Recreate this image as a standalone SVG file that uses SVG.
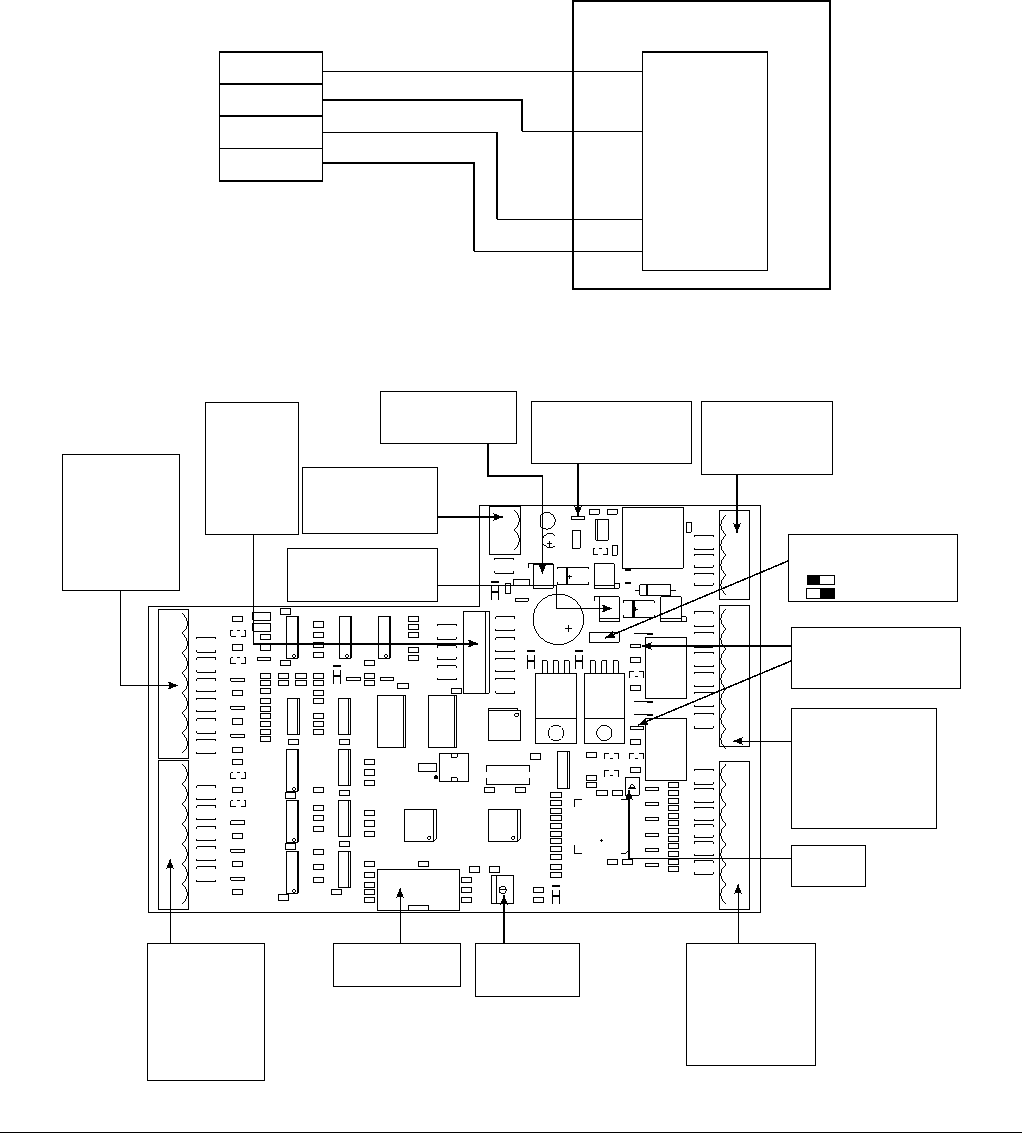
<svg xmlns="http://www.w3.org/2000/svg" width="1022" height="1133" viewBox="0 0 1022 1133">
<style>
svg{background:#fff}
path,rect,circle{fill:none;stroke:#000;stroke-width:1;shape-rendering:crispEdges}
.z path,.z rect,.z circle{stroke-width:3}
.z .f{fill:#000;stroke:none}
.z .t{stroke-width:6}
.b2{stroke-width:2}
.w2{stroke-width:2}
.w15{stroke-width:1.5}
.k{fill:#000;stroke:none}
.a{marker-end:url(#ah)}
</style>
<defs>
<marker id="ah" markerUnits="userSpaceOnUse" markerWidth="11" markerHeight="8" refX="10" refY="4" orient="auto"><path class="k" d="M0 0L10 4L0 8L1.500 4Z"/></marker>
<g class="z">
<path id="sL7" d="M0 0q32 30 0 60q32 30 0 60q32 30 0 60q32 30 0 60q32 30 0 60q32 30 0 60q32 30 0 60"/>
<path id="sR7" d="M0 0q-32 30 0 60q-32 30 0 60q-32 30 0 60q-32 30 0 60q-32 30 0 60q-32 30 0 60q-32 30 0 60"/>
<path id="sR4" d="M0 0q-32 30 0 60q-32 30 0 60q-32 30 0 60q-32 30 0 60"/>
<path id="bt" d="M0 6V0H57V6"/>
<path id="bb" d="M0 -6V0H57V-6"/>
<path id="sa" d="M5 0H0V18H14M30 18H44V0H39M17 0h9"/>
<path id="sb" d="M0 18V0H14M30 0H44V18M17 15h9"/>
<g id="hs"><rect class="f" width="23" height="5"/><rect class="f" x="0" y="30" width="23" height="7"/><path d="M1 15V58M22 15V58"/></g>
<g id="ict"><rect width="33" height="126"/><path class="t" d="M34 0V126"/><circle cx="23" cy="119" r="5"/></g>
<g id="icd"><rect width="37" height="108"/><path d="M30 0V108"/></g>
<g id="sq"><path d="M0 0H97V88L88 97H0ZM88 0V97"/><circle cx="75" cy="85" r="5"/></g>
</g>
</defs>
<g id="top-unit">
<rect id="enclosure" class="b2" x="573" y="0.500" width="257" height="288"/>
<g id="inner"><path d="M642.500 52V270H767.500V52"/><path class="b2" d="M642 52H768"/></g>
<g id="terminals"><path d="M219.500 52V181M322.500 52V181M219 148.500H323"/><path class="b2" d="M219 52H323M219 84H323M219 116H323M219 181H323"/></g>
<g id="wires"><path d="M322 71.500H642"/><path class="w2" d="M322 100H522V131"/><path d="M522 131.500H642"/><path d="M322 132.500H497"/><path class="w2" d="M497 132V219"/><path d="M497 219.500H642"/><path class="w2" d="M322 163H474V251"/><path d="M474 251.500H642"/></g>
</g>
<g id="board-outline"><path d="M148.500 606H479.500V505H760.500V912H148.500Z"/></g>
<g id="board-left" class="z" transform="translate(140 590) scale(.33333)">
<rect x="55" y="58" width="90" height="447"/><rect x="55" y="511" width="90" height="447"/>
<use href="#sL7" x="127" y="70"/><use href="#sL7" x="127" y="522"/>
<use href="#bt" x="170" y="142"/><use href="#bb" x="170" y="187"/><use href="#bt" x="170" y="203"/><use href="#bb" x="170" y="247"/><use href="#bt" x="170" y="267"/><use href="#bb" x="170" y="305"/><use href="#bt" x="170" y="325"/><use href="#bb" x="170" y="366"/><use href="#bt" x="170" y="386"/><use href="#bb" x="170" y="430"/><use href="#bt" x="170" y="448"/><use href="#bb" x="170" y="492"/>
<use href="#bt" x="170" y="587"/><use href="#bb" x="170" y="630"/><use href="#bt" x="170" y="647"/><use href="#bb" x="170" y="690"/><use href="#bt" x="170" y="710"/><use href="#bb" x="170" y="752"/><use href="#bt" x="170" y="770"/><use href="#bb" x="170" y="812"/><use href="#bt" x="170" y="830"/><use href="#bb" x="170" y="875"/>
<path d="M277 79h31v16h-31zM277 163h31v19h-31zM273 265h41v9h-41zM277 301h31v16h-31zM273 349h41v9h-41zM277 385h31v19h-31zM273 433h41v9h-41zM277 472h31v16h-31zM277 508h31v16h-31zM277 592h31v16h-31zM273 692h41v12h-41zM277 730h31v16h-31zM273 778h41v9h-41zM277 814h31v16h-31zM273 862h41v9h-41zM277 898h31v16h-31z"/>
<use href="#sa" x="273" y="121"/><use href="#sa" x="273" y="204"/><use href="#sa" x="273" y="549"/><use href="#sa" x="273" y="633"/>
<path d="M338 67h54v24h-54zM338 100h54v24h-54zM361 133h31v15h-31zM361 165h31v17h-31zM352 202h40v9h-40zM361 250h31v16h-31zM361 271h31v16h-31zM361 295h31v15h-31zM361 325h31v15h-31zM361 349h31v15h-31zM361 370h31v15h-31zM361 394h31v15h-31zM361 418h31v15h-31zM361 439h31v15h-31z"/>
<path d="M421 57h31v16h-31zM421 211h31v16h-31zM436 607h31v18h-31zM436 760h31v18h-31zM415 913h31v18h-31zM415 250h31v16h-31zM415 271h31v16h-31zM466 250h33v16h-33zM466 271h33v16h-33z"/>
<use href="#ict" x="439" y="79"/><use href="#ict" x="598" y="79"/><use href="#ict" x="715" y="79"/><use href="#ict" x="439" y="478"/><use href="#ict" x="439" y="631"/><use href="#ict" x="439" y="784"/>
<path d="M520 95h31v17h-31zM520 127h31v16h-31zM520 157h31v16h-31zM520 187h31v16h-31zM520 250h31v16h-31zM520 271h31v16h-31zM520 301h31v16h-31zM520 325h31v16h-31zM520 370h31v16h-31zM520 394h31v16h-31zM520 418h31v16h-31zM520 592h31v16h-31zM520 646h31v16h-31zM520 676h31v16h-31zM520 709h31v16h-31zM520 778h31v16h-31zM520 823h31v16h-31zM520 862h31v16h-31z"/>
<use href="#hs" x="579" y="225"/>
<path d="M619 262h43v9h-43zM721 262h40v9h-40zM673 211h31v16h-31zM673 250h31v15h-31zM673 271h31v15h-31zM772 280h34v16h-34z"/>
<use href="#icd" x="442" y="325"/><use href="#icd" x="595" y="325"/><use href="#icd" x="595" y="478"/><use href="#icd" x="595" y="631"/><use href="#icd" x="595" y="784"/>
<path d="M445 448h31v16h-31zM598 448h31v16h-31zM598 601h31v16h-31zM598 754h31v16h-31zM574 898h31v16h-31z"/>
<rect x="712" y="316" width="84" height="156"/><path d="M790 316V472"/><rect x="865" y="316" width="84" height="156"/><path d="M943 316V472"/>
<path d="M673 508h31v16h-31zM673 539h31v17h-31zM673 571h31v16h-31zM673 661h31v16h-31zM673 692h31v17h-31zM673 724h31v16h-31zM673 814h31v16h-31zM673 847h31v16h-31zM673 877h31v15h-31zM673 898h31v15h-31zM673 922h31v16h-31z"/>
<path d="M805 79h31v16h-31zM805 103h31v16h-31zM805 127h31v16h-31zM805 172h31v16h-31zM805 196h31v16h-31z"/>
<use href="#bt" x="892" y="103"/><use href="#bb" x="892" y="148"/><use href="#bt" x="892" y="167"/><use href="#bb" x="892" y="208"/><use href="#bt" x="892" y="227"/><use href="#bb" x="892" y="270"/>
<rect x="934" y="295" width="31" height="15"/>
<path d="M898 490h87v85h-87zM934 490v12h18v-12M934 575v-12h18v12M835 520h55v25h-55z"/><circle class="f" cx="888" cy="562" r="6"/>
<use href="#sq" x="793" y="658"/>
<path d="M712 838h246v124h-246zM805 962v-16h60v16M835 814h31v16h-31zM988 829h31v18h-31zM964 862h31v16h-31zM964 892h31v16h-31zM964 922h31v16h-31z"/>
</g>
<g id="board-right" class="z" transform="translate(470 495) scale(.33333)">
<path d="M-20 349H58V595H-20ZM46 349V595"/>
<rect x="58" y="34" width="94" height="144"/><path d="M133 45q32 30 0 60q32 30 0 60"/>
<path d="M213 60A25 25 0 1 1 213 95Z"/><path d="M255 122A22 22 0 1 0 255 152"/><path d="M230 147h17M238 139v17"/>
<path d="M304 64h40v9h-40zM358 43h30v15h-30zM412 43h30v15h-30zM457 37h183v183h-183zM649 82h15v30h-15zM307 106h24v54h-24zM377 73h38v63h-38zM383 73V136M427 151h15v30h-15z"/>
<use href="#sa" x="370" y="161"/>
<rect x="748" y="46" width="90" height="267"/><rect x="748" y="331" width="90" height="423"/>
<use href="#sR4" x="768" y="60"/><use href="#sR7" x="768" y="342"/>
<use href="#bt" x="673" y="121"/><use href="#bb" x="673" y="165"/><use href="#bt" x="673" y="178"/><use href="#bb" x="673" y="217"/><use href="#bt" x="673" y="235"/><use href="#bb" x="673" y="271"/>
<use href="#bt" x="673" y="350"/><use href="#bb" x="673" y="395"/><use href="#bt" x="673" y="412"/><use href="#bb" x="673" y="455"/><rect class="f" x="673" y="452" width="55" height="6"/><use href="#bt" x="673" y="472"/><use href="#bb" x="673" y="515"/><use href="#bt" x="673" y="532"/><use href="#bb" x="673" y="575"/><use href="#bt" x="673" y="592"/><use href="#bb" x="673" y="635"/><use href="#bt" x="673" y="655"/><use href="#bb" x="673" y="700"/>
<use href="#bt" x="75" y="190"/><use href="#bb" x="75" y="235"/>
<use href="#bt" x="78" y="365"/><use href="#bb" x="78" y="408"/><use href="#bt" x="78" y="428"/><use href="#bb" x="78" y="470"/><use href="#bt" x="78" y="490"/><use href="#bb" x="78" y="530"/><use href="#bt" x="78" y="550"/><use href="#bb" x="78" y="595"/>
<path d="M190 208h60v72h-60zM190 273h60M175 220V207H250"/>
<path d="M373 207h60v73h-60zM373 273h60M433 265h15v15H433"/>
<path d="M388 305h60v75h-60zM388 372h60M373 318V305H388"/>
<path d="M572 305h62v75h-62zM572 372h62M634 365h15v15H634"/>
<path d="M262 223V217H356V223M262 262V268H356V262M293 245h12M299 239v12"/><rect class="f" x="288" y="217" width="6" height="51"/>
<path d="M460 323V317H553V323M460 361V367H553V361M492 343h12M498 337v12"/><rect class="f" x="487" y="317" width="8" height="50"/>
<rect class="f" x="465" y="221" width="18" height="6"/><rect class="f" x="465" y="262" width="18" height="6"/>
<path d="M510 270h92v31h-92zM495 286h15M602 286h15"/><rect class="f" x="527" y="270" width="7" height="31"/>
<circle cx="265" cy="373" r="76"/><path d="M285 400h20M295 390v20"/>
<path d="M358 412h90v30h-90zM106 265h16v30h-16zM132 270V253H178V270M136 310h39v9h-39z"/>
<use href="#hs" x="63" y="258"/><use href="#hs" x="172" y="465"/><use href="#hs" x="316" y="465"/>
<path d="M196 535h124v210h-124zM196 670h124M217 535V497h15v38M250 535V497h15v38M283 535V497h15v38"/><circle cx="258" cy="714" r="23"/>
<path d="M343 535h121v210h-121zM343 670h121M361 535V497h15v38M395 535V497h15v38M430 535V497h15v38"/><circle cx="403" cy="714" r="23"/>
<path d="M55 647h97v89h-97zM55 647V640H143V647"/><circle cx="140" cy="660" r="6"/>
<rect x="526" y="427" width="124" height="183"/><rect x="526" y="670" width="124" height="188"/>
<path d="M481 448h31v10h-31zM481 487h31v16h-31zM481 571h31v16h-31zM481 694h40v9h-40zM481 733h31v16h-31z"/>
<use href="#sb" x="478" y="530"/>
<path d="M492 417H550M492 620H550M492 660H550"/><rect class="f" x="532" y="414" width="18" height="6"/><rect class="f" x="532" y="617" width="18" height="6"/><rect class="f" x="530" y="657" width="20" height="6"/>
</g>
<g id="board-bottom" class="z" transform="translate(360 730) scale(.33333)">
<path d="M679 67h31v16h-31zM811 112h31v16h-31zM679 136h31v16h-31zM679 157h31v16h-31zM709 181h34v16h-34zM757 181h31v16h-31z"/>
<use href="#sb" x="733" y="70"/><use href="#sb" x="808" y="70"/><use href="#sb" x="733" y="122"/>
<path d="M796 142h42v54h-42zM805 176H829M817 162L808 172H826Z"/>
<path d="M511 72h31v17h-31zM379 125V106H509V125M379 145V164H509V145M373 172h31v16h-31zM466 172h31v16h-31z"/>
<rect x="592" y="64" width="36" height="111"/><path d="M622 64V175"/>
<path d="M571 187h34v16h-34zM571 211h34v16h-34zM571 235h34v16h-34zM571 257h34v16h-34zM571 280h34v16h-34zM571 304h34v16h-34zM571 325h34v16h-34zM571 349h34v16h-34zM571 373h34v16h-34zM571 403h34v16h-34zM571 427h34v16h-34z"/>
<use href="#sq" x="133" y="238"/><use href="#sq" x="385" y="238"/>
<path d="M667 208H643V230M643 346V370H667M783 208H807M783 370H797L807 360M721 331h9M725 327v8"/>
<path d="M742 388h31v16h-31zM787 388h31v16h-31z"/>
<path d="M856 172h40v9h-40zM856 217h40v9h-40zM856 262h40v9h-40zM856 310h40v9h-40zM856 355h40v9h-40zM856 400h40v9h-40z"/>
<path d="M925 157h31v16h-31zM925 181h31v16h-31zM925 205h31v16h-31zM925 226h31v16h-31zM925 250h31v16h-31zM925 272h31v16h-31zM925 295h31v16h-31zM925 319h31v16h-31zM925 341h31v16h-31zM925 364h31v16h-31zM925 388h31v16h-31zM925 410h31v16h-31z"/>
<use href="#bt" x="1003" y="118"/><use href="#bb" x="1003" y="163"/><use href="#bt" x="1003" y="175"/><use href="#bb" x="1003" y="218"/><use href="#bt" x="1003" y="232"/><use href="#bb" x="1003" y="272"/><use href="#bt" x="1003" y="285"/><use href="#bb" x="1003" y="322"/><use href="#bt" x="1003" y="335"/><use href="#bb" x="1003" y="378"/><use href="#bt" x="1003" y="392"/><use href="#bb" x="1003" y="433"/>
<rect x="1078" y="94" width="90" height="444"/><use href="#sR7" x="1098" y="103"/>
<path d="M328 409h31v18h-31zM388 409h31v18h-31zM394 436h67v84h-67zM409 436V520M416 480h24"/><circle cx="428" cy="480" r="11"/>
<use href="#hs" x="577" y="465"/>
<path d="M520 472h31v16h-31zM520 502h31v16h-31z"/>
</g>
<g id="callout-1"><rect x="205" y="402" width="93" height="132"/></g>
<g id="callout-2"><rect x="380" y="391" width="136" height="52"/></g>
<g id="callout-3"><rect x="531" y="401" width="160" height="62"/></g>
<g id="callout-4"><rect x="701" y="401" width="131" height="73"/></g>
<g id="callout-5"><rect x="62" y="454" width="117" height="136"/></g>
<g id="callout-6"><rect x="302" y="467" width="135" height="66"/></g>
<g id="callout-7"><rect x="287" y="548" width="150" height="53"/></g>
<g id="callout-8"><rect x="788" y="534" width="169" height="67"/><rect x="807" y="575.500" width="27" height="9"/><rect class="k" x="807" y="575" width="13" height="10"/><rect x="806" y="588.500" width="28" height="10"/><rect class="k" x="820" y="588" width="14" height="11"/></g>
<g id="callout-9"><rect x="791" y="627" width="169" height="61"/></g>
<g id="callout-10"><rect x="791" y="708" width="145" height="120"/></g>
<g id="callout-11"><rect x="791" y="845" width="74" height="41"/></g>
<g id="callout-12"><rect x="147" y="943" width="117" height="137"/></g>
<g id="callout-13"><rect x="333" y="943" width="127" height="43"/></g>
<g id="callout-14"><rect x="475" y="943" width="104" height="53"/></g>
<g id="callout-15"><rect x="686" y="943" width="129" height="122"/></g>
<g id="connectors">
<path class="a" d="M120.500 590V685.500H178"/>
<path d="M253 534V643"/><path class="a w2" d="M252.500 643.500H478"/>
<path class="a w2" d="M437 517H503"/>
<path class="a w15" d="M437 585.500H556.500V608.500H612"/>
<path class="a w15" d="M488 443V476H542.500V574"/>
<path class="a w15" d="M578 463V516"/>
<path class="a w15" d="M737 474V533"/>
<path class="a w15" d="M788 561L605 638"/>
<path class="a w2" d="M791 646H642"/>
<path class="a w15" d="M791 661L638 725"/>
<path class="a" d="M791 741H733"/>
<path class="w15" d="M791 858.500H629"/><path class="a w2" d="M629 859V790"/>
<path class="a" d="M738 943V884"/>
<path class="a w2" d="M504 943V895"/>
<path class="a" d="M400 943V888"/>
<path class="a" d="M170 943V859"/>
</g>
<g id="footer"><path d="M0 1132.500H1022"/></g>
</svg>
